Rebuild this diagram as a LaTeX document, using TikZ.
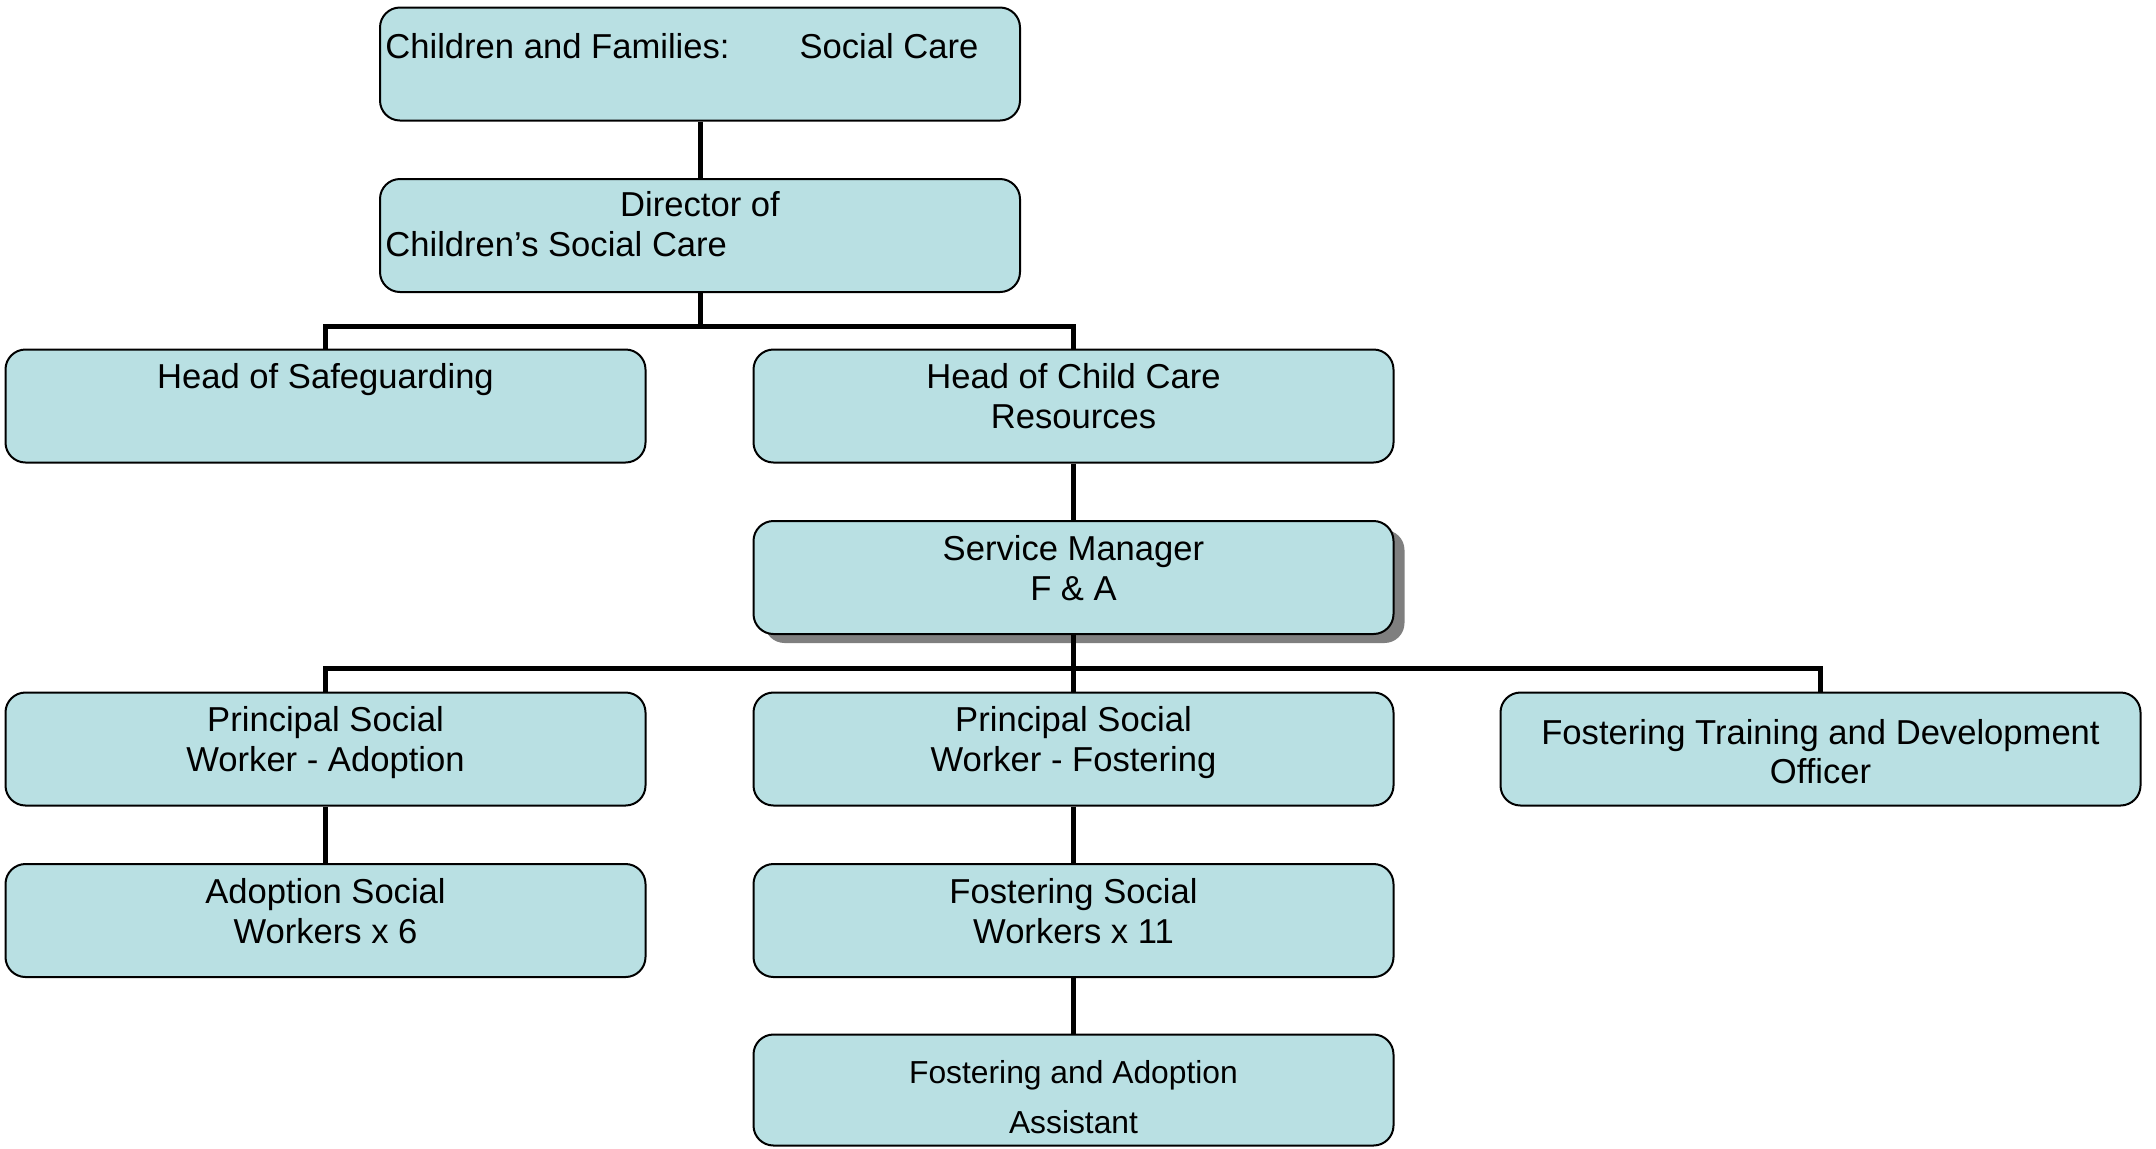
\documentclass[tikz,border=0pt]{standalone}
\usepackage{fontspec}
\setmainfont{Liberation Sans}
\usetikzlibrary{calc,shadows}
\definecolor{boxfill}{HTML}{B9E0E3}
\definecolor{shade}{HTML}{7F7F7F}

\begin{document}
\begin{tikzpicture}[x=0.5pt,y=-0.5pt,
  orgbox/.style={draw=black,line width=1pt,fill=boxfill,rounded corners=10pt,minimum width=320pt,minimum height=56.5pt,inner sep=0pt},
  boxtext/.style={anchor=base,inner sep=0pt,font=\fontsize{17.3}{20}\selectfont},
  smalltext/.style={boxtext,font=\fontsize{15.9}{19}\selectfont},
  wire/.style={line width=2.5pt}]
\useasboundingbox (0,0) rectangle (2156,1148);
% boxes
\node[orgbox] (top) at (700,64) {};
\node[orgbox] (dir) at (700,235.5) {};
\node[orgbox] (hsg) at (325.5,406) {};
\node[orgbox] (hcc) at (1073.5,406) {};
\node[orgbox,drop shadow={shadow xshift=5.5pt,shadow yshift=-4.5pt,fill=shade,opacity=1}] (sm) at (1073.5,577.5) {};
\node[orgbox] (psa) at (325.5,749) {};
\node[orgbox] (psf) at (1073.5,749) {};
\node[orgbox] (ftd) at (1820.5,749) {};
\node[orgbox] (asw) at (325.5,920.5) {};
\node[orgbox] (fsw) at (1073.5,920.5) {};
\node[orgbox,minimum height=55.5pt] (faa) at (1073.5,1090) {};
% texts
\node[boxtext,anchor=base west] (top-t) at ($(top.north west)+(6,52)$) {Children and Families:\hspace{35pt}Social Care};
\node[boxtext] (dir-t1) at ($(dir.north)+(0,38)$) {Director of};
\node[boxtext,anchor=base west] (dir-t2) at ($(dir.north west)+(6,78)$) {Children’s Social Care};
\node[boxtext] (hsg-t) at ($(hsg.north)+(0,40)$) {Head of Safeguarding};
\node[boxtext] (hcc-t1) at ($(hcc.north)+(0,40)$) {Head of Child Care};
\node[boxtext] (hcc-t2) at ($(hcc.north)+(0,80)$) {Resources};
\node[boxtext] (sm-t1) at ($(sm.north)+(0,40)$) {Service Manager};
\node[boxtext] (sm-t2) at ($(sm.north)+(0,80)$) {F \& A};
\node[boxtext] (psa-t1) at ($(psa.north)+(0,40)$) {Principal Social};
\node[boxtext] (psa-t2) at ($(psa.north)+(0,80)$) {Worker - Adoption};
\node[boxtext] (psf-t1) at ($(psf.north)+(0,40)$) {Principal Social};
\node[boxtext] (psf-t2) at ($(psf.north)+(0,80)$) {Worker - Fostering};
\node[boxtext] (ftd-t1) at ($(ftd.north)+(0,53)$) {Fostering Training and Development};
\node[boxtext] (ftd-t2) at ($(ftd.north)+(0,92)$) {Officer};
\node[boxtext] (asw-t1) at ($(asw.north)+(0,40)$) {Adoption Social};
\node[boxtext] (asw-t2) at ($(asw.north)+(0,80)$) {Workers x 6};
\node[boxtext] (fsw-t1) at ($(fsw.north)+(0,40)$) {Fostering Social};
\node[boxtext] (fsw-t2) at ($(fsw.north)+(0,80)$) {Workers x 11};
\node[smalltext] (faa-t1) at ($(faa.north)+(0,50)$) {Fostering and Adoption};
\node[smalltext] (faa-t2) at ($(faa.north)+(0,100)$) {Assistant};
% connectors
\coordinate (bus1) at (700,326);
\coordinate (bus2) at (1073.5,668);
\draw[wire] (top.south) -- (dir.north);
\draw[wire] (dir.south) -- (bus1);
\draw[wire] (hsg.north) |- (bus1) -| (hcc.north);
\draw[wire] (hcc.south) -- (sm.north);
\draw[wire] (sm.south) -- (psf.north);
\draw[wire] (psa.north) |- (bus2) -| (ftd.north);
\draw[wire] (psa.south) -- (asw.north);
\draw[wire] (psf.south) -- (fsw.north);
\draw[wire] (fsw.south) -- (faa.north);
\end{tikzpicture}
\end{document}
